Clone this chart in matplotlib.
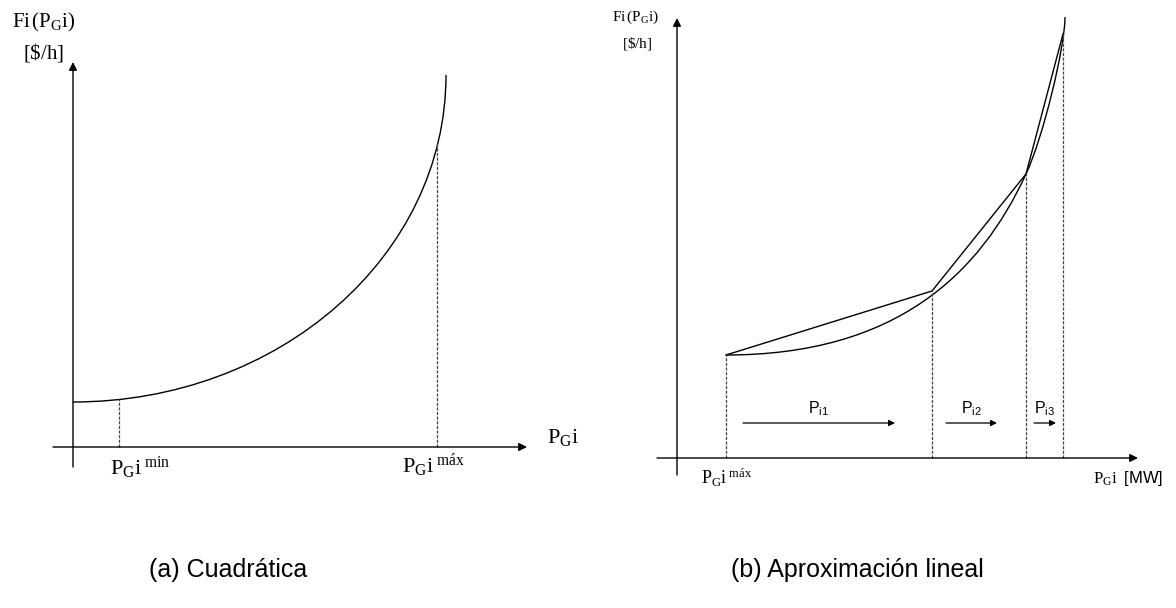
import matplotlib
matplotlib.use("Agg")
import matplotlib.pyplot as plt
from matplotlib.path import Path
from matplotlib.patches import PathPatch

plt.rcParams['mathtext.fontset'] = 'custom'
plt.rcParams['mathtext.rm'] = 'Liberation Serif'
plt.rcParams['mathtext.it'] = 'Liberation Serif:italic'
plt.rcParams['mathtext.sf'] = 'Liberation Sans'

# (a) quadratic cost curve: cubic bezier (start, ctrl1, ctrl2, end)
quad_curve = [(73, 402), (279, 402), (446, 256), (446, 75)]
quad_limits_x = [119, 437]          # PGi min / PGi max
quad_limits_y = [399, 143]          # curve height at those limits

# (b) same kind of curve in two bezier pieces, plus the breakpoints of the linear fit
lin_curve = [(726, 355), (896, 355), (980, 274), (1026, 174),
             (1043, 138), (1065, 47), (1065, 17)]
break_x = [726, 932, 1026, 1063]
break_y = [355, 291, 174, 34]

# segment arrows P_i1..P_i3
seg_labels = ['i1', 'i2', 'i3']
seg_start = [743, 946, 1034]
seg_end = [895, 997, 1056]

fig = plt.figure(figsize=(11.76, 6.08), dpi=100)
ax = fig.add_axes([0, 0, 1, 1])
ax.set_xlim(0, 1176)
ax.set_ylim(608, 0)
ax.axis('off')

arrow = dict(arrowstyle='-|>', color='black', lw=1.0, mutation_scale=12,
             shrinkA=0, shrinkB=0)
small_arrow = dict(arrowstyle='-|>', color='black', lw=0.9, mutation_scale=9,
                   shrinkA=0, shrinkB=0)
dash = dict(color='#444444', lw=0.9, ls=(0, (2.5, 1.2)))

# ---- (a) Cuadrática ----
ax.annotate('', xy=(73, 62), xytext=(73, 467), arrowprops=arrow)
ax.annotate('', xy=(527, 447), xytext=(53, 447), arrowprops=arrow)

codes = [Path.MOVETO, Path.CURVE4, Path.CURVE4, Path.CURVE4]
ax.add_patch(PathPatch(Path(quad_curve, codes), fc='none', ec='black', lw=1.0))

for x, y in zip(quad_limits_x, quad_limits_y):
    ax.plot([x, x], [447, y], **dash)

ax.text(12, 22, r"$\mathrm{Fi\,(P_{G}i)}$", fontsize=15, ha='left', va='center')
ax.text(23, 52, r"$\mathrm{[\$/h]}$", fontsize=15, ha='left', va='center')
ax.text(547, 437, r"$\mathrm{P_{G}i}$", fontsize=16, ha='left', va='center')
ax.text(110, 468, r"$\mathrm{P_{G}i}^{\ \mathrm{min}}$", fontsize=16, ha='left', va='center')
ax.text(402, 466, r"$\mathrm{P_{G}i}^{\ \mathrm{máx}}$", fontsize=16, ha='left', va='center')

# ---- (b) Aproximación lineal ----
ax.annotate('', xy=(677, 18), xytext=(677, 475), arrowprops=arrow)
ax.annotate('', xy=(1138, 458), xytext=(657, 458), arrowprops=arrow)

codes = [Path.MOVETO] + [Path.CURVE4] * 6
ax.add_patch(PathPatch(Path(lin_curve, codes), fc='none', ec='black', lw=1.0))
ax.plot(break_x, break_y, color='black', lw=1.0)

for x, y in zip(break_x, break_y):
    ax.plot([x, x], [458, y], **dash)

for lab, x0, x1 in zip(seg_labels, seg_start, seg_end):
    ax.annotate('', xy=(x1, 423), xytext=(x0, 423), arrowprops=small_arrow)
    ax.text((x0 + x1) / 2, 409, r"$\mathsf{P_{%s}}$" % lab, fontsize=11.5,
            ha='center', va='center')

ax.text(612, 17, r"$\mathrm{Fi\,(P_{G}i)}$", fontsize=11, ha='left', va='center')
ax.text(622, 43, r"$\mathrm{[\$/h]}$", fontsize=11, ha='left', va='center')
ax.text(701, 478, r"$\mathrm{P_{G}i}^{\ \mathrm{máx}}$", fontsize=13, ha='left', va='center')
ax.text(1093, 478, r"$\mathrm{P_{G}i}\ \ \mathsf{[MW]}$", fontsize=12, ha='left', va='center')

ax.text(228, 570, "(a) Cuadrática", fontsize=18, family='Liberation Sans',
        ha='center', va='center')
ax.text(857, 570, "(b) Aproximación lineal", fontsize=18, family='Liberation Sans',
        ha='center', va='center')

fig.savefig('out.png', dpi=100)
